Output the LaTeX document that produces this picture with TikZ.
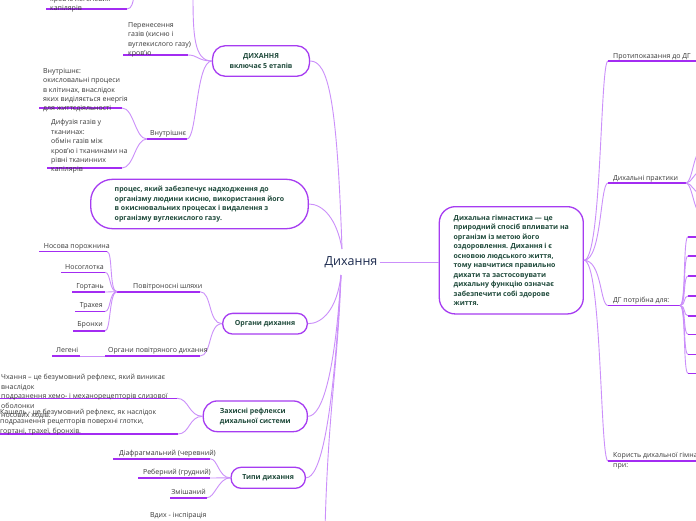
\documentclass[tikz,border=0pt]{standalone}
\usepackage{fontspec}
\setmainfont{Open Sans}
\definecolor{ulc}{HTML}{A32CF2}
\definecolor{cnc}{HTML}{CB8FFA}
\definecolor{bxc}{HTML}{A63CF1}
\definecolor{bxt}{HTML}{1F4A3B}
\definecolor{txc}{HTML}{3A3A3A}
\definecolor{ctc}{HTML}{1B2A4E}
\tikzset{
  ul/.style={draw=ulc, line width=1.6pt},
  cn/.style={draw=cnc, line width=0.9pt},
  lbl/.style={inner sep=0pt, anchor=base west, text=txc, font=\fontsize{7}{9.4}\selectfont, align=left},
  lble/.style={lbl, anchor=base east},
  rbox/.style={draw=bxc, line width=1.3pt, fill=white, text=bxt, font=\bfseries\fontsize{7}{9.5}\selectfont, inner sep=0pt},
}
\begin{document}
\begin{tikzpicture}[x=1pt,y=-1pt]
\useasboundingbox (0,0) rectangle (696,520);
\fill[white] (0,0) rectangle (696,520);
\clip (0,0) rectangle (696,520);

% central node
\node[inner sep=2pt, text=ctc, font=\fontsize{12.5}{14}\selectfont] (c) at (351,262) {Дихання};
\coordinate (cu) at (342,249);
\coordinate (cd) at (341,275);
\coordinate (bot) at (325,530);

% boxes
\node[rbox, minimum width=97pt, minimum height=30.6pt, rounded corners=13pt, align=center] (b1) at (261,61) {ДИХАННЯ\\включає 5 етапів};
\node[rbox, minimum width=217.6pt, minimum height=49.4pt, rounded corners=22pt, align=left] (b2) at (199.5,204) {процес, який забезпечує надходження до\\організму людини кисню, використання його\\в окиснювальних процесах і видалення з\\організму вуглекислого газу.};
\node[rbox, minimum width=84.6pt, minimum height=20.7pt, rounded corners=10pt] (b3) at (265,323.7) {Органи дихання};
\node[rbox, minimum width=104pt, minimum height=30.7pt, rounded corners=14pt, align=left] (b4) at (255.3,416.3) {Захисні рефлекси\\дихальної системи};
\node[rbox, minimum width=74.3pt, minimum height=21pt, rounded corners=10pt] (b5) at (268.2,477.8) {Типи дихання};
\node[rbox, minimum width=144pt, minimum height=107.3pt, rounded corners=16pt, align=left] (r1) at (511.3,260.3) {Дихальна гімнастика — це\\природний спосіб впливати на\\організм із метою його\\оздоровлення. Дихання і є\\основою людського життя,\\тому навчитися правильно\\дихати та застосовувати\\дихальну функцію означає\\забезпечити собі здорове\\життя.};

% connectors from centre
\draw[cn] (b1.east) .. controls +(18,0) and +(-5,-150) .. (cu);
\draw[cn] (b2.east) .. controls +(14,0) and +(-5,-30) .. (cu);
\draw[cn] (b3.east) .. controls +(14,0) and +(-4,35) .. (cd);
\draw[cn] (b4.east) .. controls +(14,0) and +(-6,100) .. (cd);
\draw[cn] (b5.east) .. controls +(14,0) and +(-8,150) .. (cd);
\draw[cn] (cd) .. controls +(-3,90) and +(3,-120) .. (bot);
\draw[cn] (c.east) -- (c.east -| r1.west);

% right side
\coordinate (p1) at (608,61);   \coordinate (p1e) at (700,61);
\coordinate (p2) at (608,183);  \coordinate (p2e) at (686,183);
\coordinate (p3) at (608,305.5);\coordinate (p3e) at (680,305.5);
\coordinate (p4) at (608,461);  \coordinate (p4e) at (700,461);
\foreach \p in {p1,p2,p3,p4}{\draw[cn] (r1.east) .. controls +(18,0) and +(-8,0) .. (\p);}
\draw[ul] (p1) -- (p1e);
\draw[ul] (p2) -- (p2e);
\draw[ul] (p3) -- (p3e);
\draw[ul] (p4) -- (p4e);
\foreach \yy in {152,172,193,212}{\draw[cn] (p2e) .. controls +(6,0) and +(-6,0) .. (700,\yy);}
\foreach \yy in {236.7,256,276,296,315.7,334.3,354.3,373.3}{
  \draw[cn] (p3e) .. controls +(6,0) and +(-5,0) .. (688,\yy);
  \draw[ul] (688,\yy) -- (700,\yy);}
\node[lbl] (q1) at (613,58.2) {Протипоказання до ДГ};
\node[lbl] (q2) at (613,180.2) {Дихальні практики};
\node[lbl] (q3) at (613,302.5) {ДГ потрібна для:};
\node[lbl, font=\fontsize{7}{10}\selectfont] (q4) at (613,467.5) {Користь дихальної гімнастики\\при:};

% b1 subtree
\coordinate (topE) at (193,-6);
\coordinate (perS) at (123,55);  \coordinate (perE) at (188,55);
\coordinate (vnS) at (147,139);  \coordinate (vnE) at (187,139);
\coordinate (kaS) at (46,9);     \coordinate (kaE) at (127,9);
\coordinate (iS) at (39,108);    \coordinate (iE) at (122,108);
\coordinate (dS) at (47,168);    \coordinate (dE) at (122,168);
\draw[cn] (b1.west) .. controls +(-18,0) and +(0,40) .. (topE);
\draw[cn] (b1.west) .. controls +(-14,0) and +(10,0) .. (perE);
\draw[cn] (b1.west) .. controls +(-16,0) and +(10,0) .. (vnE);
\draw[cn] (kaE) .. controls +(5,0) and +(-1,6) .. (134,-4);
\draw[cn] (vnS) .. controls +(-12,0) and +(12,0) .. (iE);
\draw[cn] (vnS) .. controls +(-12,0) and +(12,0) .. (dE);
\draw[ul] (perS) -- (perE);
\draw[ul] (vnS) -- (vnE);
\draw[ul] (kaS) -- (kaE);
\draw[ul] (iS) -- (iE);
\draw[ul] (dS) -- (dE);
\node[lbl] (t0) at (50,10.8) {кров'ю легеневих\\капілярів};
\node[lbl] (t1) at (128,55.6) {Перенесення\\газів (кисню і\\вуглекислого газу)\\кров'ю};
\node[lbl] (t2) at (43,110.8) {Внутрішнє:\\окисловальні процеси\\в клітинах, внаслідок\\яких виділяється енергія\\для життєдіяльності};
\node[lbl] (t3) at (51,171.8) {Дифузія газів у\\тканинах:\\обмін газів між\\кров'ю і тканинами на\\рівні тканинних\\капілярів};
\node[lbl] (t4) at (150,135.5) {Внутрішнє};

% b3 subtree
\coordinate (powS) at (117,291.7); \coordinate (powE) at (200,291.7);
\coordinate (orgS) at (105,356);   \coordinate (orgE) at (200,356);
\draw[cn] (b3.west) .. controls +(-14,0) and +(12,0) .. (powE);
\draw[cn] (b3.west) .. controls +(-14,0) and +(12,0) .. (orgE);
\draw[ul] (powS) -- (powE);
\draw[ul] (orgS) -- (orgE);
\coordinate (n1S) at (39,251.5);  \coordinate (n1E) at (107,251.5);
\coordinate (n2S) at (61,272.3);  \coordinate (n2E) at (105,272.3);
\coordinate (n3S) at (72,292);    \coordinate (n3E) at (105,292);
\coordinate (n4S) at (75,311.5);  \coordinate (n4E) at (105,311.5);
\coordinate (n5S) at (73,331);    \coordinate (n5E) at (105,331);
\foreach \n in {n1,n2,n3,n4,n5}{
  \draw[cn] (powS) .. controls +(-8,0) and +(6,0) .. (\n E);
  \draw[ul] (\n S) -- (\n E);}
\coordinate (lgS) at (52,356); \coordinate (lgE) at (80,356);
\draw[cn] (orgS) -- (lgE);
\draw[ul] (lgS) -- (lgE);
\node[lbl] (s0) at (133,288.2) {Повітроносні шляхи};
\node[lbl] (s1) at (108,352.5) {Органи повітряного дихання};
\node[lble] (s2) at (110,248.8) {Носова порожнина};
\node[lble] (s3) at (104,269.2) {Носоглотка};
\node[lble] (s4) at (104,288.2) {Гортань};
\node[lble] (s5) at (103,307.5) {Трахея};
\node[lble] (s6) at (103,326.8) {Бронхи};
\node[lbl] (s7) at (56,352.5) {Легені};

% b4 subtree
\coordinate (chS) at (-2,398.3); \coordinate (chE) at (177,398.3);
\coordinate (kS) at (-2,434);    \coordinate (kE) at (178,434);
\draw[cn] (b4.west) .. controls +(-14,0) and +(12,0) .. (chE);
\draw[cn] (b4.west) .. controls +(-14,0) and +(12,0) .. (kE);
\draw[ul] (chS) -- (chE);
\draw[ul] (kS) -- (kE);
\node[lbl, font=\fontsize{7}{9.5}\selectfont] (u1) at (1,417.5) {Чхання – це безумовний рефлекс, який виникає\\внаслідок\\подразнення хемо- і механорецепторів слизової\\оболонки\\носових ходів.};
\node[lbl, font=\fontsize{7}{9.6}\selectfont] (u2) at (0,433.5) {Кашель - це безумовний рефлекс, як наслідок\\подразнення рецепторів поверхні глотки,\\гортані, трахеї, бронхів.};

% b5 subtree
\coordinate (dfS) at (113,458.7); \coordinate (dfE) at (210,458.7);
\coordinate (rbS) at (138,478);   \coordinate (rbE) at (210,478);
\coordinate (zmS) at (170,497.7); \coordinate (zmE) at (207,497.7);
\draw[cn] (b5.west) .. controls +(-12,0) and +(8,0) .. (dfE);
\draw[cn] (b5.west) .. controls +(-12,0) and +(8,0) .. (rbE);
\draw[cn] (b5.west) .. controls +(-12,0) and +(8,0) .. (zmE);
\draw[ul] (dfS) -- (dfE);
\draw[ul] (rbS) -- (rbE);
\draw[ul] (zmS) -- (zmE);
\node[lble] (v1) at (216,455.2) {Діафрагмальний (черевний)};
\node[lble] (v2) at (211,474.5) {Реберний (грудний)};
\node[lble] (v3) at (206,494.2) {Змішаний};
\node[lbl] (v4) at (150,517.8) {Вдих - інспірація};
\end{tikzpicture}
\end{document}
